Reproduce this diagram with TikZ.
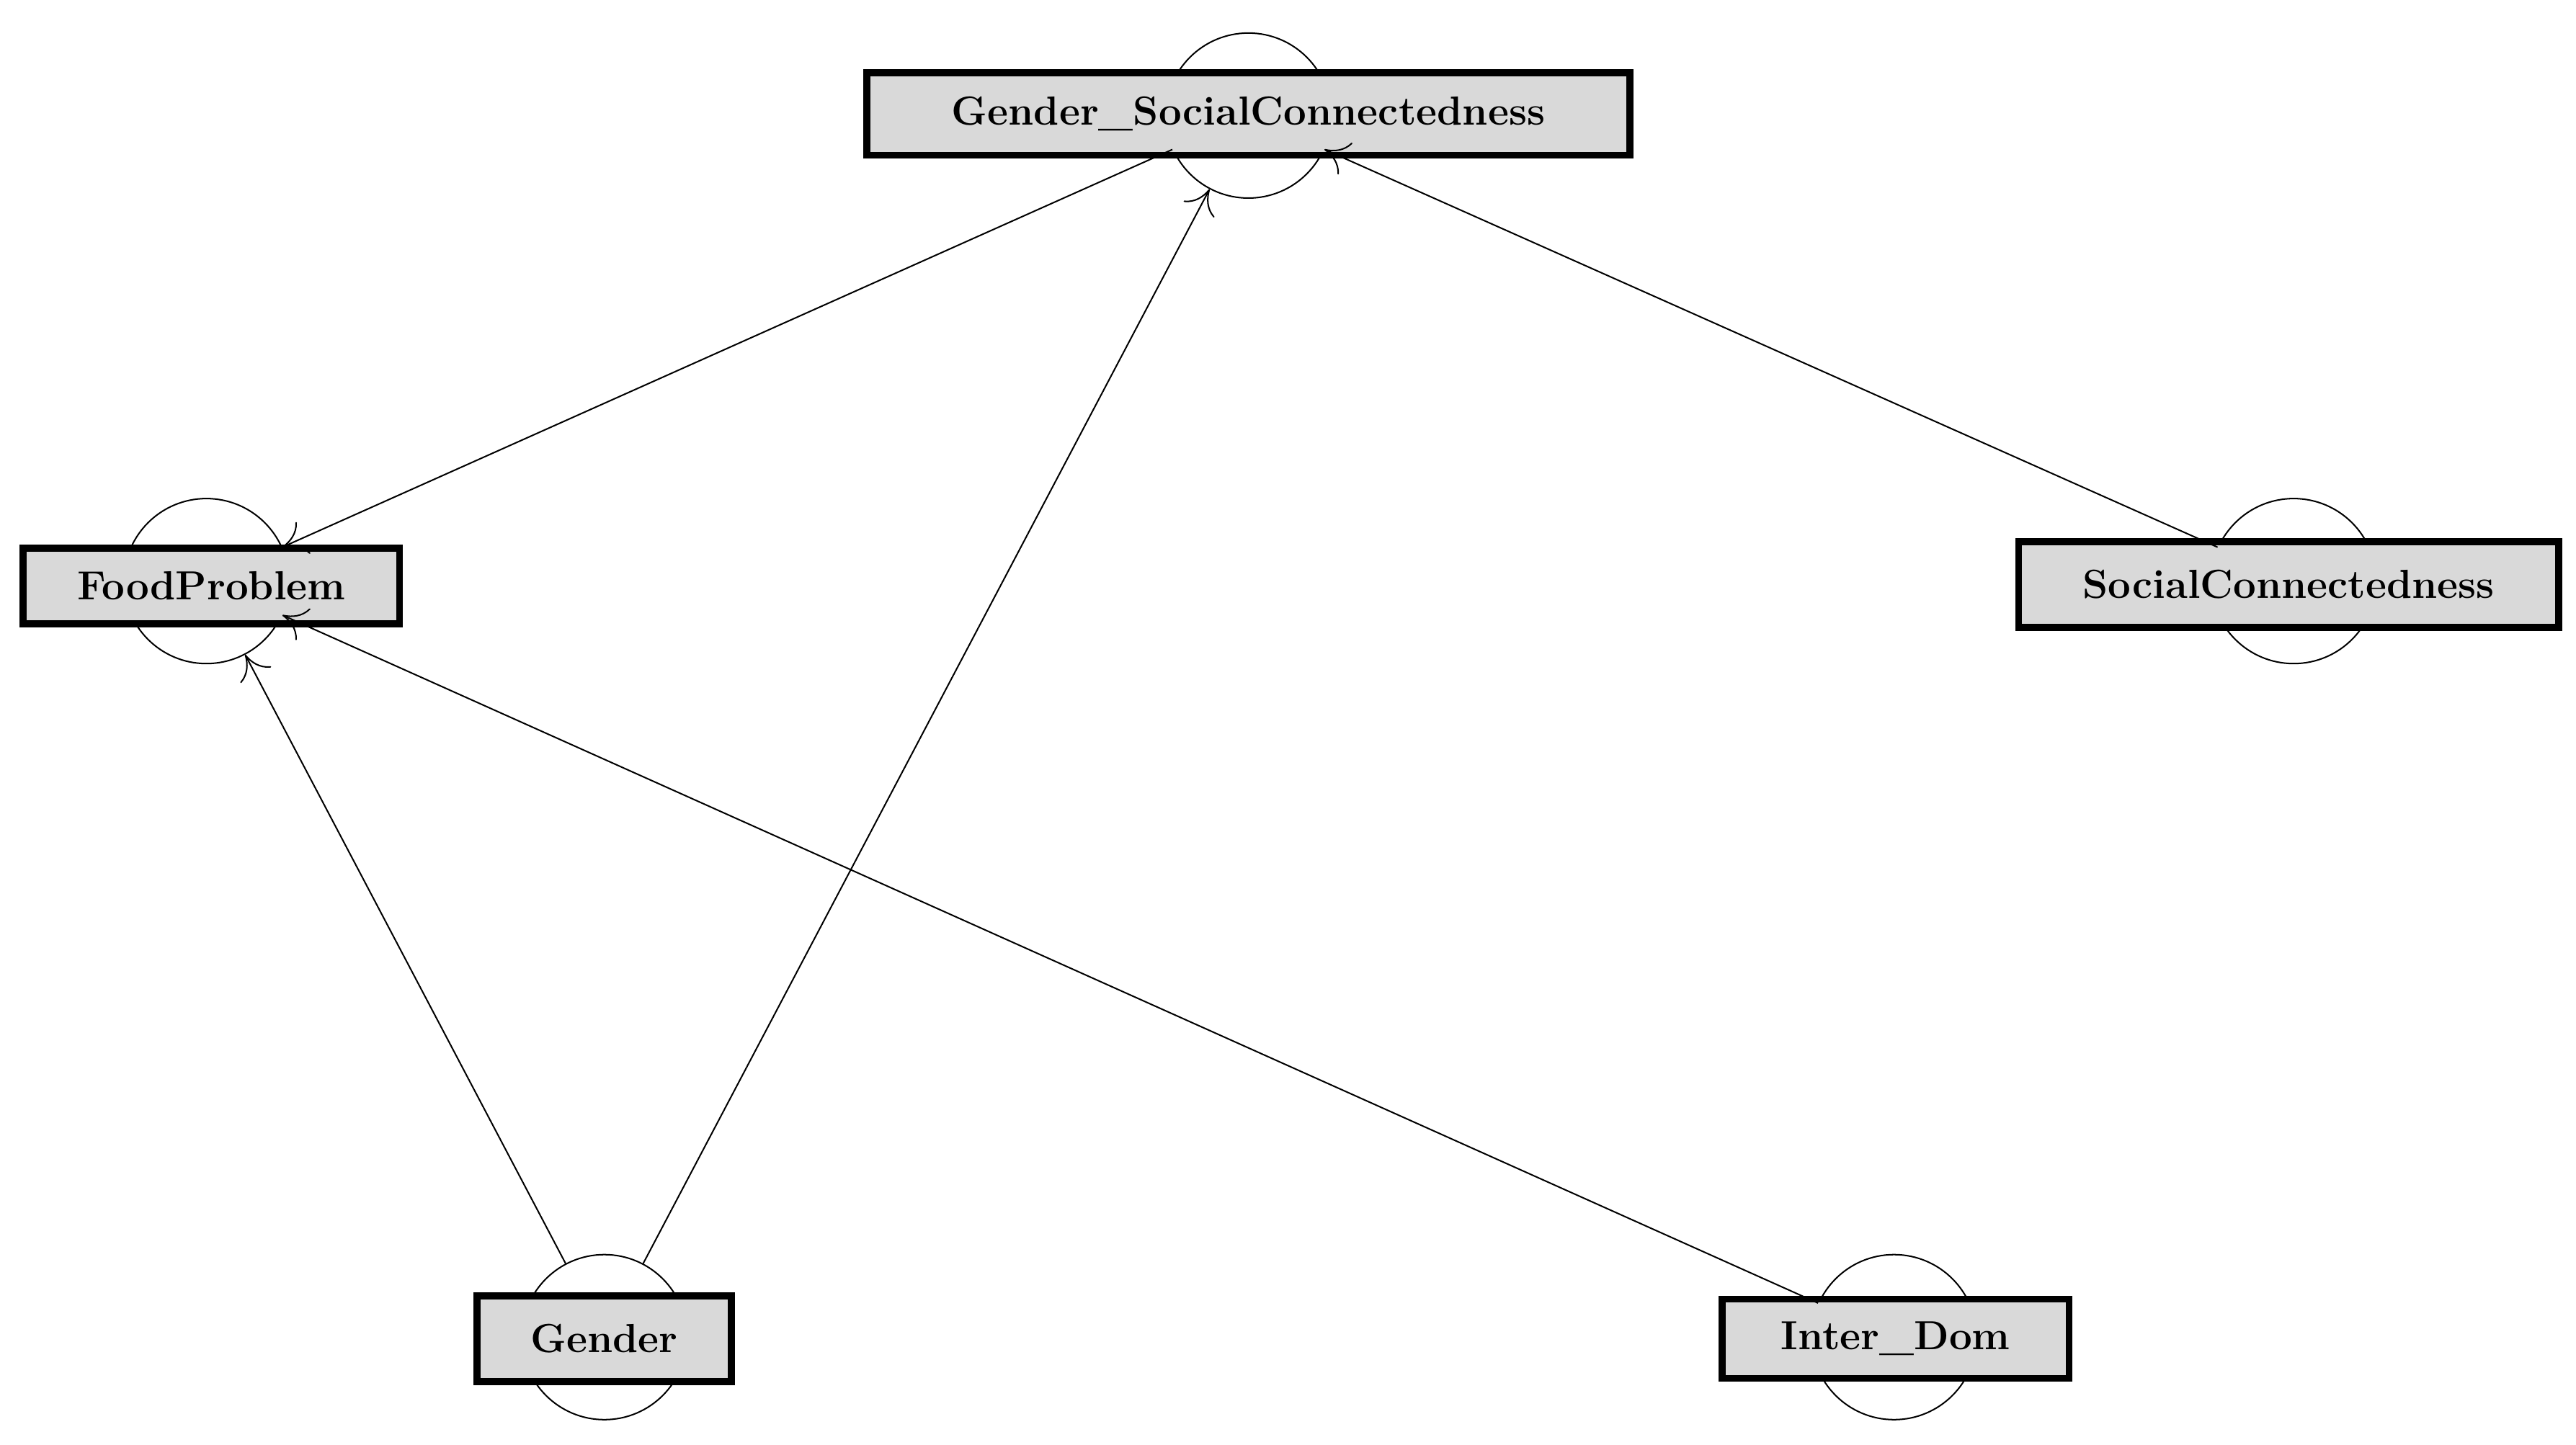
\documentclass[tikz,border=0pt]{standalone}
\usetikzlibrary{arrows.meta}
\begin{document}
\begin{tikzpicture}[x=0.02cm,y=-0.02cm,
 loop/.style={circle,draw,line width=0.5pt,minimum size=2cm,inner sep=0pt},
 box/.style={draw,line width=2.4pt,fill=gray!30,inner sep=0pt,font=\fontsize{14}{16}\selectfont\bfseries},
 edge/.style={line width=0.5pt,-{To[length=8pt,width=12pt]}}]
\useasboundingbox (0,0) rectangle (1560,875);
\node[loop] (cgsc) at (756,70) {};
\node[loop] (cfp) at (125,352) {};
\node[loop] (csc) at (1389,352) {};
\node[loop] (cg) at (366,810) {};
\node[loop] (ci) at (1147,810) {};
\node[box,minimum width=9.24cm,minimum height=1.0cm] (gsc) at (756,69) {Gender\_SocialConnectedness};
\node[box,minimum width=4.56cm,minimum height=0.92cm] (fp) at (128,355) {FoodProblem};
\node[box,minimum width=6.54cm,minimum height=1.04cm] (sc) at (1386,354) {SocialConnectedness};
\node[box,minimum width=3.08cm,minimum height=1.04cm] (g) at (366,811) {Gender};
\node[box,minimum width=4.2cm,minimum height=0.96cm] (i) at (1148,811) {Inter\_Dom};
\draw[edge] (cgsc) -- (cfp);
\draw[edge] (cg) -- (cgsc);
\draw[edge] (csc) -- (cgsc);
\draw[edge] (cg) -- (cfp);
\draw[edge] (ci) -- (cfp);
\end{tikzpicture}
\end{document}
